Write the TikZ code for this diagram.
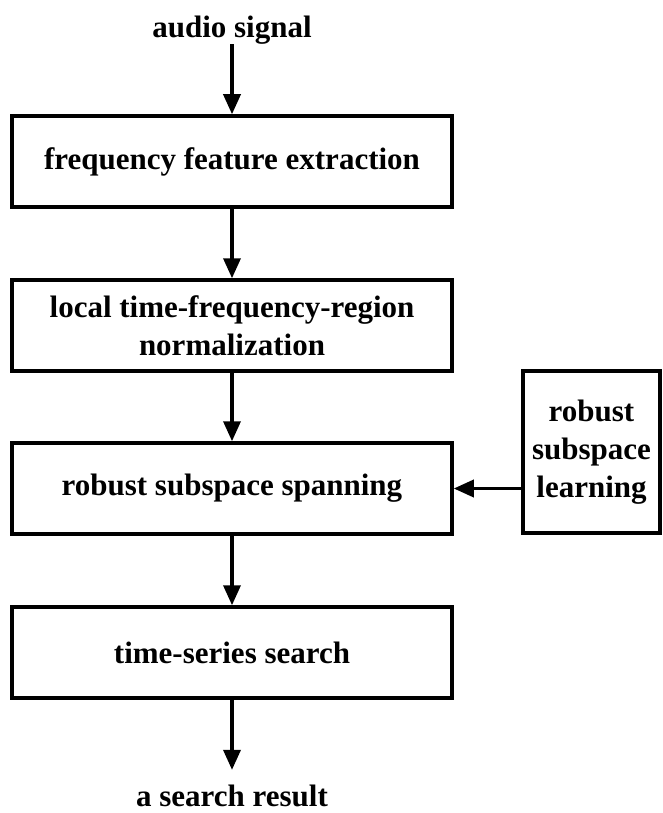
\documentclass[tikz,border=0pt]{standalone}
\usepackage{fontspec}
\setmainfont{Liberation Serif}
\usetikzlibrary{arrows.meta}
\begin{document}
\begin{tikzpicture}[x=1pt,y=1pt,
  every node/.style={font=\bfseries\fontsize{31}{38}\selectfont, align=center},
  stage/.style={draw, line width=3.5pt, minimum width=440pt, minimum height=91pt, inner sep=0pt},
  flow/.style={line width=3.5pt, -{Triangle[length=20pt,width=17pt]}}]
\useasboundingbox (0,0) rectangle (662,-813);
\node[inner sep=0pt] (in) at (232,-30) {audio signal};
\node[stage] (fe) at (232,-161.5) {frequency feature extraction};
\node[stage] (norm) at (232,-325.5) {local time-frequency-region\\normalization};
\node[stage] (span) at (232,-488.5) {robust subspace spanning};
\node[stage] (search) at (232,-652.5) {time-series search};
\node[inner sep=0pt] (out) at (232,-796) {a search result};
\node[draw, line width=3.5pt, minimum width=137pt, minimum height=162pt, inner sep=0pt] (learn) at (591.5,-452) {robust\\subspace\\learning};
\draw[flow] (in) -- (fe);
\draw[flow] (fe) -- (norm);
\draw[flow] (norm) -- (span);
\draw[flow] (span) -- (search);
\draw[flow, shorten >=15pt] (search) -- (out);
\draw[flow] (learn.west |- span.east) -- (span.east);
\end{tikzpicture}
\end{document}
